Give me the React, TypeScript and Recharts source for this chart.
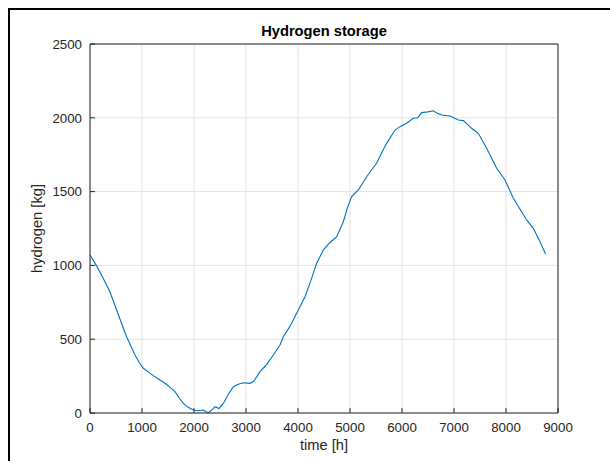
import React from 'react';
import { LineChart, Line, XAxis, YAxis, CartesianGrid } from 'recharts';

// hours of the year and stored hydrogen (kg)
const hours = [
    0, 130, 256, 385, 480, 577, 700, 865, 950, 1026, 1150, 1250, 1346, 1450, 1550, 1635, 1720, 1795, 1880, 1987,
    2080, 2180, 2230, 2276, 2340, 2404, 2480, 2564, 2650, 2756, 2850, 2949, 3077, 3150, 3269, 3400, 3526, 3654, 3718,
    3850, 3974, 4135, 4250, 4359, 4487, 4600, 4744, 4872, 4950, 5032, 5160, 5321, 5420, 5513, 5605, 5705, 5865, 5962,
    6090, 6218, 6300, 6378, 6500, 6603, 6680, 6763, 6923, 7083, 7179, 7260, 7340, 7468, 7628, 7821, 7981, 8141, 8270,
    8397, 8526, 8654, 8760,
];
const hydrogen = [
    1070, 995, 912, 820, 728, 635, 520, 393, 340, 303, 270, 245, 224, 200, 170, 145, 100, 65, 40, 20,
    15, 20, 8, 2, 20, 43, 30, 65, 120, 178, 195, 205, 201, 215, 280, 330, 393, 461, 517,
    590, 675, 788, 900, 1014, 1104, 1150, 1195, 1296, 1390, 1466, 1511, 1601, 1650, 1692, 1760, 1827, 1917, 1940,
    1963, 1997, 2000, 2035, 2040, 2048, 2030, 2019, 2012, 1985, 1981, 1955, 1929, 1895, 1793, 1658, 1579, 1455, 1380,
    1308, 1251, 1161, 1077,
];
const xTicks = [0, 1000, 2000, 3000, 4000, 5000, 6000, 7000, 8000, 9000];
const yTicks = [0, 500, 1000, 1500, 2000, 2500];

const data = hours.map((t, i) => ({ t, h: hydrogen[i] }));

const FONT = '"Liberation Sans", Arial, Helvetica, sans-serif';
const AXIS = '#262626';
const tickStyle = { fill: AXIS, fontSize: 13.3, fontFamily: FONT };

export default function App() {
    return (
        <div style={{ position: 'fixed', left: 0, top: 0, width: 610, height: 461, overflow: 'hidden', background: '#fff' }}>
            <div
                style={{
                    position: 'absolute',
                    left: 8,
                    top: 8,
                    width: 602,
                    height: 453,
                    borderTop: '2px solid #000',
                    borderLeft: '2px solid #000',
                    boxSizing: 'border-box',
                }}
            />
            <div
                style={{
                    position: 'absolute',
                    left: 90,
                    width: 468,
                    top: 23,
                    textAlign: 'center',
                    fontFamily: FONT,
                    fontWeight: 'bold',
                    fontSize: 14.7,
                    color: '#000',
                }}
            >
                Hydrogen storage
            </div>
            <div style={{ position: 'absolute', left: 0, top: 0 }}>
                <LineChart width={610} height={461} data={data} margin={{ top: 43, right: 51, bottom: 8, left: 30 }}>
                    <CartesianGrid stroke="#e3e3e3" strokeWidth={1} />
                    <XAxis
                        dataKey="t"
                        type="number"
                        domain={[0, 9000]}
                        ticks={xTicks}
                        height={40}
                        tickSize={-5}
                        tickMargin={15}
                        stroke={AXIS}
                        tick={tickStyle}
                        label={{
                            value: 'time [h]',
                            position: 'insideBottom',
                            offset: 3,
                            fill: AXIS,
                            fontSize: 14.7,
                            fontFamily: FONT,
                        }}
                    />
                    <XAxis
                        xAxisId="top"
                        orientation="top"
                        dataKey="t"
                        type="number"
                        domain={[0, 9000]}
                        ticks={xTicks}
                        height={1}
                        tickSize={-5}
                        tick={false}
                        stroke={AXIS}
                    />
                    <YAxis
                        type="number"
                        domain={[0, 2500]}
                        ticks={yTicks}
                        width={60}
                        tickSize={-5}
                        tickMargin={13}
                        stroke={AXIS}
                        tick={tickStyle}
                        label={{
                            value: 'hydrogen [kg]',
                            angle: -90,
                            position: 'insideLeft',
                            offset: 7,
                            textAnchor: 'middle',
                            fill: AXIS,
                            fontSize: 14.7,
                            fontFamily: FONT,
                        }}
                    />
                    <YAxis
                        yAxisId="right"
                        orientation="right"
                        type="number"
                        domain={[0, 2500]}
                        ticks={yTicks}
                        width={1}
                        tickSize={-5}
                        tick={false}
                        stroke={AXIS}
                    />
                    <Line
                        type="linear"
                        dataKey="h"
                        stroke="#0072BD"
                        strokeWidth={1.1}
                        dot={false}
                        isAnimationActive={false}
                    />
                </LineChart>
            </div>
        </div>
    );
}
